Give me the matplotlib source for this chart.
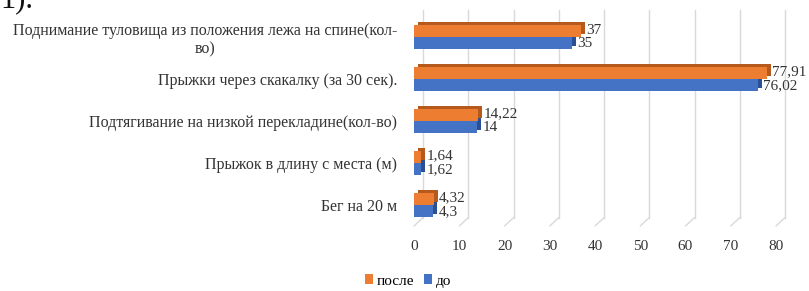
import matplotlib
matplotlib.use("Agg")
import matplotlib.pyplot as plt
import matplotlib.patheffects as pe
from matplotlib.transforms import ScaledTranslation
from matplotlib.patches import ConnectionPatch
import numpy as np

plt.rcParams['font.family'] = ['Liberation Serif', 'DejaVu Serif']

categories = ["Бег на 20 м", "Прыжок в длину с места (м)",
              "Подтягивание на низкой перекладине(кол-во)",
              "Прыжки через скакалку (за 30 сек).",
              "Поднимание туловища из положения лежа на спине(кол-\nво)"]
after_vals = [4.32, 1.64, 14.22, 77.91, 37]
before_vals = [4.3, 1.62, 14, 76.02, 35]
after_labels = ["4,32", "1,64", "14,22", "77,91", "37"]
before_labels = ["4,3", "1,62", "14", "76,02", "35"]
xticks = [0, 10, 20, 30, 40, 50, 60, 70, 80]

c_after, c_after_d = "#ED7D31", "#B55A1C"
c_before, c_before_d = "#4472C4", "#2A4F93"

fig = plt.figure(figsize=(8.09, 2.91), dpi=100)
ax = fig.add_axes([414/809, 1-226/291, (776-414)/809, 210/291])

y = np.arange(len(categories))
h = 0.28

shadow_b = [pe.SimplePatchShadow(offset=(2.9, 2.2), shadow_rgbFace=c_before_d, alpha=1.0), pe.Normal()]
shadow_a = [pe.SimplePatchShadow(offset=(2.9, 2.2), shadow_rgbFace=c_after_d, alpha=1.0), pe.Normal()]

bb = ax.barh(y - h/2, before_vals, height=h, color=c_before, zorder=3, label="до")
for p in bb:
    p.set_path_effects(shadow_b)
ba = ax.barh(y + h/2, after_vals, height=h, color=c_after, zorder=4, label="после")
for p in ba:
    p.set_path_effects(shadow_a)

for yi, v, t in zip(y, after_vals, after_labels):
    ax.annotate(t, (v, yi + h/2), xytext=(5, 1), textcoords="offset pixels",
                va="center", ha="left", fontsize=11, color="#333333", zorder=6)
for yi, v, t in zip(y, before_vals, before_labels):
    ax.annotate(t, (v, yi - h/2), xytext=(5, -1), textcoords="offset pixels",
                va="center", ha="left", fontsize=11, color="#333333", zorder=6)

ax.set_xlim(0, 80)
ax.set_ylim(-0.5, len(categories) - 0.5)
ax.set_yticks(y)
ax.set_yticklabels(categories, fontsize=11.5, multialignment="center", color="#333333")
ax.set_xticks(xticks)
ax.set_xticklabels([str(v) for v in xticks], fontsize=11, color="#333333")
ax.tick_params(axis="both", length=0)
ax.tick_params(axis="x", pad=10)
ax.tick_params(axis="y", pad=12)
for s in ax.spines.values():
    s.set_visible(False)

xt = ax.get_xaxis_transform()
off = xt + ScaledTranslation(0.09, 0.0, fig.dpi_scale_trans)
for v in xticks:
    ax.plot([v, v], [0.04, 1.03], transform=off, color="#D9D9D9", lw=1.0, zorder=1, clip_on=False)
    cp = ConnectionPatch(xyA=(v, 0.0), coordsA=xt, xyB=(v, 0.04), coordsB=off,
                         color="#D9D9D9", lw=1.0, zorder=1)
    ax.add_artist(cp)

handles = [ba, bb]
leg = fig.legend(handles, ["после", "до"], loc="center", bbox_to_anchor=(408/809, 1-281/291),
                 ncol=2, frameon=False, fontsize=11, handlelength=0.55, handleheight=0.55,
                 handletextpad=0.25, columnspacing=0.6)
for lh in leg.legend_handles:
    lh.set_path_effects([])

fig.text(0.0, 1 - 7/291, "1).", fontsize=22, va="baseline", ha="left", color="#111111")

fig.savefig("out.png", dpi=100)
